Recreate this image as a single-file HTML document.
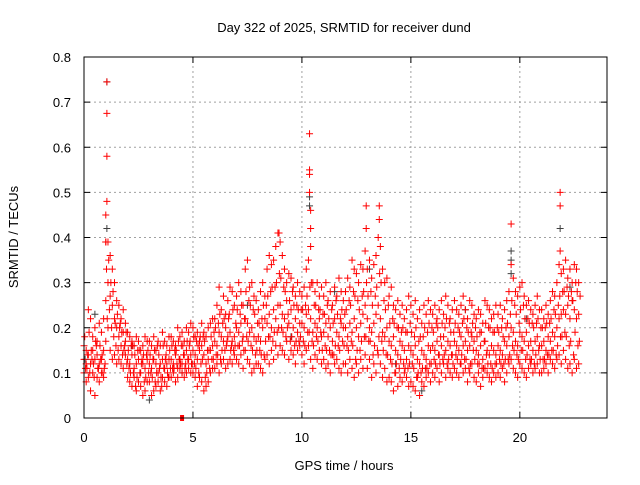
<!DOCTYPE html>
<html><head><meta charset="utf-8"><style>
body{margin:0;background:#fff;}
svg text{font-family:"Liberation Sans",sans-serif;font-size:13px;fill:#000;}
</style></head><body>
<svg id="chart" width="640" height="480" xmlns="http://www.w3.org/2000/svg">
<rect width="640" height="480" fill="#fff"/>
<text x="344" y="32" text-anchor="middle">Day 322 of 2025, SRMTID for receiver dund</text>
<g id="grid"></g>
<g id="axes"></g>
<g id="marks"></g>
<rect x="84" y="57" width="523" height="361" fill="none" stroke="#000" stroke-width="1"/>
<text x="344" y="470" text-anchor="middle">GPS time / hours</text>
<text x="18" y="237" text-anchor="middle" transform="rotate(-90 18 237)">SRMTID / TECUs</text>
</svg>
<script>
const xTicks=[0,5,10,15,20];
const yTicks=[0,0.1,0.2,0.3,0.4,0.5,0.6,0.7,0.8];
const yTickLabels=["0","0.1","0.2","0.3","0.4","0.5","0.6","0.7","0.8"];
const hoursHi=[
[.16,.15,.24,.22,.18,.20,.17,.21,.19,.22],[.39,.39,.36,.33,.30,.26,.25,.22,.24,.21],
[.19,.18,.17,.16,.18,.17,.15,.16,.18,.17],[.17,.16,.18,.15,.17,.16,.19,.17,.16,.18],
[.18,.17,.16,.20,.18,.19,.17,.20,.19,.21],[.20,.18,.19,.17,.21,.19,.18,.20,.21,.22],
[.22,.25,.29,.24,.27,.23,.26,.29,.28,.25],[.27,.30,.28,.25,.33,.35,.29,.30,.27,.26],
[.24,.28,.30,.27,.33,.36,.34,.35,.38,.41],[.39,.36,.33,.30,.32,.31,.29,.27,.30,.28],
[.27,.29,.33,.35,.38,.30,.28,.30,.27,.29],[.27,.30,.26,.28,.25,.29,.27,.31,.28,.26],
[.28,.31,.29,.35,.33,.32,.30,.34,.33,.37],[.33,.35,.31,.34,.36,.40,.38,.33,.30,.31],
[.27,.29,.25,.24,.26,.23,.25,.22,.24,.27],[.25,.23,.26,.22,.24,.21,.25,.23,.26,.24],
[.23,.25,.22,.24,.26,.23,.27,.25,.22,.24],[.26,.24,.23,.25,.27,.24,.22,.26,.25,.23],
[.22,.24,.23,.21,.26,.25,.24,.22,.23,.25],[.23,.25,.22,.24,.26,.28,.34,.31,.28,.27],
[.29,.30,.27,.25,.26,.24,.23,.25,.27,.24],[.24,.22,.25,.23,.26,.28,.27,.30,.34,.32],
[.33,.35,.31,.33,.30,.34,.33,.30]];
const hoursMid=[
[.13,.12,.14,.12,.15,.13,.14,.12,.13,.15],[.26,.30,.27,.25,.22,.20,.18,.16,.19,.17],
[.13,.12,.14,.11,.12,.13,.10,.12,.11,.13],[.12,.11,.13,.12,.10,.12,.13,.11,.12,.13],
[.13,.12,.14,.11,.13,.12,.14,.15,.13,.14],[.15,.14,.13,.15,.16,.14,.12,.13,.15,.16],
[.17,.16,.19,.18,.17,.20,.18,.19,.17,.18],[.20,.19,.21,.18,.22,.21,.19,.20,.18,.17],
[.18,.17,.20,.22,.21,.23,.20,.24,.22,.25],[.25,.23,.22,.26,.21,.24,.20,.22,.19,.21],
[.21,.20,.23,.24,.22,.19,.21,.20,.22,.18],[.19,.21,.18,.20,.17,.22,.19,.18,.21,.20],
[.20,.18,.21,.19,.22,.20,.18,.21,.23,.25],[.22,.20,.19,.21,.23,.25,.22,.19,.18,.20],
[.17,.16,.18,.15,.14,.17,.16,.15,.13,.16],[.15,.14,.16,.13,.12,.15,.14,.13,.16,.15],
[.16,.15,.17,.14,.16,.18,.15,.17,.16,.14],[.17,.16,.15,.18,.16,.17,.15,.16,.18,.17],
[.15,.14,.16,.13,.17,.15,.14,.16,.15,.14],[.16,.15,.14,.17,.16,.18,.20,.19,.17,.16],
[.19,.18,.17,.19,.16,.17,.15,.17,.18,.16],[.16,.17,.15,.18,.17,.19,.18,.20,.22,.23],
[.24,.23,.25,.22,.26,.24,.22,.23]];
const hoursLo=[
[.10,.08,.09,.06,.10,.05,.09,.08,.10,.09],[.17,.20,.15,.13,.14,.12,.13,.12,.11,.14],
[.09,.08,.07,.09,.06,.08,.07,.05,.06,.08],[.08,.05,.06,.07,.08,.06,.09,.08,.07,.09],
[.09,.10,.08,.09,.11,.10,.09,.10,.11,.10],[.10,.09,.07,.09,.08,.06,.07,.08,.10,.11],
[.11,.12,.10,.12,.13,.11,.12,.13,.12,.14],[.13,.12,.14,.11,.15,.13,.12,.10,.11,.12],
[.12,.11,.10,.13,.14,.12,.15,.13,.16,.14],[.16,.15,.14,.17,.13,.15,.14,.12,.15,.16],
[.14,.12,.15,.16,.13,.11,.14,.13,.15,.12],[.13,.11,.12,.10,.14,.12,.13,.11,.10,.12],
[.12,.10,.13,.11,.09,.12,.10,.13,.11,.14],[.11,.13,.09,.12,.10,.14,.12,.09,.11,.08],
[.09,.08,.06,.10,.07,.09,.08,.10,.09,.07],[.08,.07,.06,.09,.05,.08,.07,.09,.10,.08],
[.10,.09,.11,.08,.10,.12,.09,.11,.10,.09],[.11,.10,.09,.12,.10,.11,.08,.10,.12,.09],
[.08,.10,.07,.09,.11,.10,.09,.08,.10,.09],[.10,.09,.11,.08,.10,.12,.13,.11,.10,.09],
[.12,.11,.10,.09,.11,.12,.10,.11,.12,.10],[.10,.11,.12,.10,.13,.12,.11,.13,.14,.12],
[.15,.13,.11,.12,.10,.13,.11,.12]];
const hoursA=[
[.18,.11,.19,.15,.12,.17,.11,.16,.14,.11],[.33,.35,.30,.28,.21,.23,.20,.19,.15,.19],
[.15,.10,.16,.14,.09,.15,.12,.14,.09,.15],[.14,.09,.15,.10,.14,.09,.16,.13,.10,.15],
[.16,.11,.15,.17,.12,.16,.11,.17,.16,.12],[.18,.11,.16,.18,.13,.17,.10,.15,.18,.13],
[.20,.14,.23,.15,.22,.16,.22,.15,.24,.16],[.24,.16,.25,.15,.28,.17,.25,.15,.23,.15],
[.21,.14,.25,.17,.27,.18,.29,.19,.30,.20],[.31,.19,.28,.20,.26,.18,.25,.17,.24,.18],
[.24,.16,.27,.19,.30,.16,.25,.17,.24,.15],[.23,.15,.22,.14,.21,.16,.23,.15,.24,.16],
[.24,.15,.25,.16,.27,.15,.24,.17,.28,.18],[.27,.17,.25,.16,.29,.18,.30,.15,.24,.14],
[.21,.12,.21,.12,.20,.13,.20,.11,.19,.12],[.19,.11,.20,.10,.18,.11,.20,.11,.21,.12],
[.19,.12,.20,.12,.21,.14,.22,.13,.19,.12],[.21,.13,.19,.14,.22,.13,.19,.12,.21,.13],
[.18,.12,.19,.11,.21,.12,.20,.11,.19,.12],[.19,.12,.18,.13,.21,.14,.26,.15,.23,.13],
[.24,.15,.22,.14,.21,.13,.20,.14,.22,.13],[.20,.13,.21,.14,.22,.15,.23,.16,.27,.18],
[.28,.18,.27,.17,.26,.19,.28,.17]];
const hoursB=[
[.11,.14,.10,.13,.09,.16,.11,.13,.10,.12],[.22,.24,.20,.18,.16,.15,.21,.14,.16,.12],
[.11,.16,.10,.07,.15,.10,.13,.08,.14,.10],[.10,.13,.08,.16,.11,.07,.11,.14,.09,.11],
[.11,.15,.12,.13,.16,.14,.12,.13,.17,.12],[.12,.17,.10,.12,.18,.09,.15,.11,.13,.19],
[.14,.21,.13,.21,.15,.17,.23,.16,.15,.21],[.16,.23,.17,.22,.18,.26,.16,.24,.14,.21],
[.15,.22,.14,.25,.18,.28,.17,.29,.19,.32],[.20,.29,.18,.23,.17,.28,.16,.25,.17,.24],
[.17,.25,.19,.29,.17,.25,.18,.24,.19,.23],[.16,.25,.15,.24,.14,.26,.16,.22,.17,.23],
[.16,.26,.17,.28,.13,.26,.15,.27,.18,.30],[.17,.28,.14,.27,.15,.32,.17,.26,.14,.25],
[.13,.22,.10,.20,.11,.19,.12,.19,.11,.21],[.12,.18,.09,.17,.10,.18,.11,.19,.12,.20],
[.13,.21,.14,.18,.13,.20,.12,.21,.14,.19],[.14,.20,.12,.21,.13,.20,.11,.19,.15,.20],
[.12,.19,.11,.17,.14,.20,.12,.19,.12,.20],[.13,.20,.12,.20,.13,.23,.16,.25,.14,.21],
[.15,.25,.13,.22,.13,.21,.12,.21,.15,.20],[.13,.20,.14,.21,.15,.24,.14,.25,.18,.28],
[.19,.29,.16,.28,.14,.30,.16,.27]];
const spikeTimes=[1.05,1.05,1.05,1.05,1.0,1.0,10.35,10.35,10.35,10.35,10.4,10.4,12.95,12.95,13.55,13.55,8.95,19.6,21.85,21.85,21.85];
const spikeVals=[.745,.675,.58,.48,.45,.39,.63,.55,.54,.5,.46,.42,.47,.42,.47,.44,.41,.43,.5,.47,.37];
const grayTimes=[1.05,1.05,10.35,10.35,19.6,19.6,19.6,21.85,3,0.5,11.5,4.5,15.5,17.5,22.3,20.3,7.5,9.5,13.1,14.3,0.05,2.2];
const grayVals=[.745,.42,.49,.47,.37,.35,.32,.42,.04,.23,.28,.1,.06,.24,.29,.22,.25,.18,.33,.12,.13,.16];
const gapTimes=[4.5];
const gapVals=[0];

const X0=84,X1=607,Y0=418,Y1=57,XMAX=24,YMAX=0.8;
const sx=t=>X0+t*(X1-X0)/XMAX;
const sy=v=>Y0-v*(Y0-Y1)/YMAX;
const NS="http://www.w3.org/2000/svg";
const grid=document.getElementById('grid'),axes=document.getElementById('axes'),marks=document.getElementById('marks');
function mk(tag,attrs,parent){const e=document.createElementNS(NS,tag);for(const k in attrs)e.setAttribute(k,attrs[k]);parent.appendChild(e);return e;}
xTicks.forEach(t=>{
  const x=sx(t);
  if(t>0){const g=mk('line',{x1:x,x2:x,y1:Y0,y2:Y1,stroke:'#a0a0a0','stroke-dasharray':'2,3'},grid);
  
  }
  const tk=mk('path',{d:`M${x},${Y0}v-6M${x},${Y1}v6`,stroke:'#000'},axes);
  
  
  const l=mk('text',{x:x,y:442,'text-anchor':'middle'},axes);l.textContent=String(t);
  
  
});
yTicks.forEach((v,i)=>{
  const y=sy(v);
  if(v>0&&v<YMAX){const g=mk('line',{x1:X0,x2:X1,y1:y,y2:y,stroke:'#a0a0a0','stroke-dasharray':'2,3'},grid);
  
  }
  const tk=mk('path',{d:`M${X0},${y}h6M${X1},${y}h-6`,stroke:'#000'},axes);
  
  
  const l=mk('text',{x:71,y:y+5,'text-anchor':'end'},axes);l.textContent=yTickLabels[i];
  
  
});
function plus(t,v,color,name){
  const x=sx(t),y=sy(v);
  const p=mk('path',{d:`M${x-3.5},${y}h7M${x},${y-3.5}v7`,stroke:color,'stroke-width':1},marks);
  
  
}
grayTimes.forEach((t,i)=>plus(t,grayVals[i],'#404040','gray-point'));
[[hoursLo,0],[hoursMid,0],[hoursHi,0],[hoursA,0.033],[hoursB,0.066]].forEach(([series,off])=>{
  series.forEach((arr,h)=>arr.forEach((v,j)=>plus(h+j*0.1+off,v,'#ff0000','red-point')));
});
spikeTimes.forEach((t,i)=>plus(t,spikeVals[i],'#ff0000','spike-point'));
gapTimes.forEach((t,i)=>{
  const r=mk('rect',{x:sx(t)-2,y:sy(gapVals[i])-3,width:4,height:6,fill:'#ff0000'},marks);
  
  
});
</script>
</body></html>
